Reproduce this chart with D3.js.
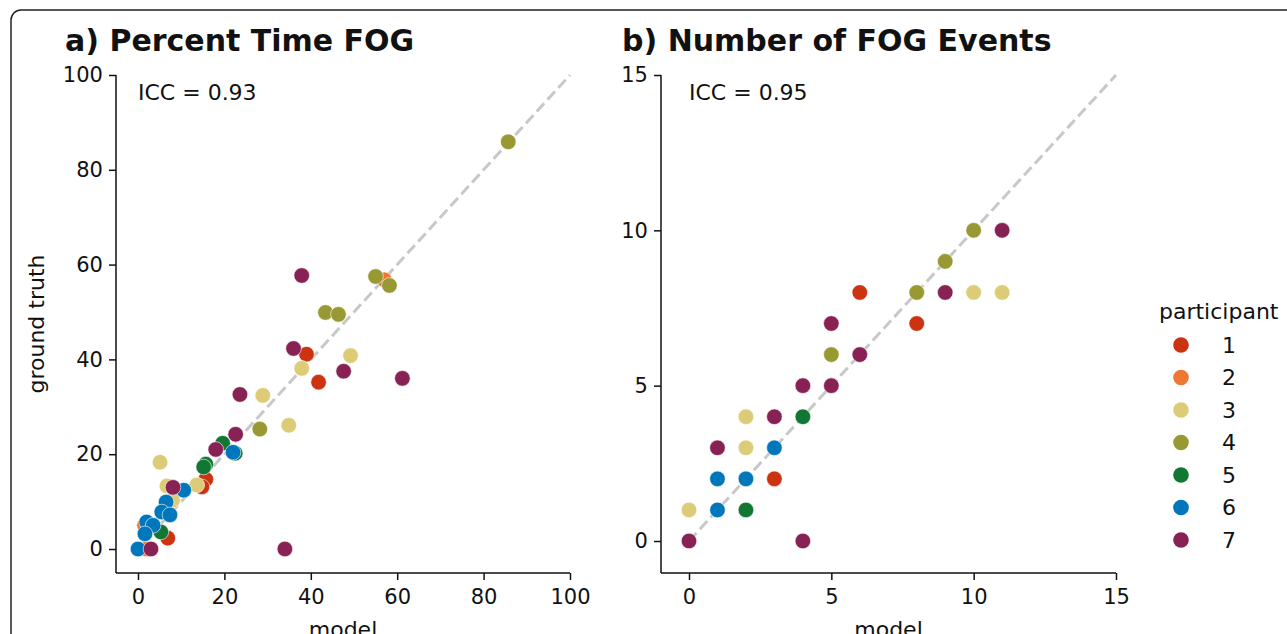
<!DOCTYPE html>
<html>
<head>
<meta charset="utf-8">
<script src="https://cdn.jsdelivr.net/npm/d3@7"></script>
<style>
  body { margin: 0; background: #fff; }
  svg { font-family: "DejaVu Sans", sans-serif; }
</style>
</head>
<body>
<div id="chart"></div>
<script>
// participants + colours
const participants = [1, 2, 3, 4, 5, 6, 7];
const colors = ['#cc3311', '#ee7733', '#ddcc77', '#999933', '#117733', '#0077bb', '#882255'];

// a) percent time FOG
const aModel = [39, 41.8, 15.7, 14.8, 6.9,
  57, 1.5, 2,
  49.2, 37.9, 28.9, 34.9, 5.1, 13.6, 6.7, 8,
  85.7, 55, 58.2, 43.4, 46.4, 28.2,
  19.6, 22.5, 15.7, 15.2, 5.3,
  22, 10.6, 6.5, 5.5, 7.4, 2, 3.5, 1.6, 0,
  37.9, 36, 47.6, 61.2, 23.6, 22.6, 18, 8.1, 34, 3];
const aTruth = [41.1, 35.2, 14.7, 13.1, 2.3,
  56.8, 5, 0,
  40.8, 38.1, 32.4, 26.1, 18.3, 13.5, 13.3, 10.3,
  85.9, 57.5, 55.6, 49.9, 49.5, 25.3,
  22.3, 20.2, 17.9, 17.3, 3.6,
  20.4, 12.4, 9.9, 7.8, 7.2, 5.7, 5, 3.2, 0,
  57.7, 42.3, 37.5, 36, 32.6, 24.2, 21, 13, 0, 0];
const aParticipant = [1, 1, 1, 1, 1,
  2, 2, 2,
  3, 3, 3, 3, 3, 3, 3, 3,
  4, 4, 4, 4, 4, 4,
  5, 5, 5, 5, 5,
  6, 6, 6, 6, 6, 6, 6, 6, 6,
  7, 7, 7, 7, 7, 7, 7, 7, 7, 7];

// b) number of FOG events
const bModel = [3, 6, 8,
  0, 2, 2, 10, 11,
  5, 8, 9, 10,
  2, 4,
  1, 1, 2, 3,
  0, 1, 3, 4, 4, 5, 5, 6, 9, 11];
const bTruth = [2, 8, 7,
  1, 4, 3, 8, 8,
  6, 8, 9, 10,
  1, 4,
  2, 1, 2, 3,
  0, 3, 4, 5, 0, 5, 7, 6, 8, 10];
const bParticipant = [1, 1, 1,
  3, 3, 3, 3, 3,
  4, 4, 4, 4,
  5, 5,
  6, 6, 6, 6,
  7, 7, 7, 7, 7, 7, 7, 7, 7, 7];

const aTicks = [0, 20, 40, 60, 80, 100];
const bTicks = [0, 5, 10, 15];

const W = 1287, H = 634;
const color = d3.scaleOrdinal().domain(participants).range(colors);

const svg = d3.select('#chart').append('svg')
  .attr('width', W).attr('height', H);

// frame round the figure
svg.append('rect')
  .attr('x', 11).attr('y', 10)
  .attr('width', W + 20).attr('height', H + 20)
  .attr('rx', 10)
  .attr('fill', 'none')
  .attr('stroke', '#222')
  .attr('stroke-width', 1.5);

function panel(opt) {
  const x = d3.scaleLinear().domain(opt.domain).range(opt.xr);
  const y = d3.scaleLinear().domain(opt.domain).range(opt.yr);
  const g = svg.append('g');

  // identity line
  g.append('line')
    .attr('x1', x(opt.domain[0])).attr('y1', y(opt.domain[0]))
    .attr('x2', x(opt.domain[1])).attr('y2', y(opt.domain[1]))
    .attr('stroke', '#c8c8c8')
    .attr('stroke-width', 3)
    .attr('stroke-dasharray', '11,5');

  // axes (spines offset like seaborn despine)
  const xa = g.append('g')
    .attr('transform', 'translate(0,' + opt.axisY + ')')
    .call(d3.axisBottom(x).tickValues(opt.ticks).tickSize(7).tickSizeOuter(0));
  const ya = g.append('g')
    .attr('transform', 'translate(' + opt.axisX + ',0)')
    .call(d3.axisLeft(y).tickValues(opt.ticks).tickSize(7).tickSizeOuter(0));
  [xa, ya].forEach(a => {
    a.select('.domain').remove();
    a.selectAll('line').attr('stroke', '#111').attr('stroke-width', 1.5);
    a.selectAll('text').attr('font-size', 21).attr('fill', '#111')
      .attr('font-family', '"DejaVu Sans", sans-serif');
  });
  xa.selectAll('text').attr('dy', '1.0em');
  ya.selectAll('text').attr('dx', '-0.15em');
  g.append('line')
    .attr('x1', opt.axisX).attr('x2', x(opt.domain[1]))
    .attr('y1', opt.axisY).attr('y2', opt.axisY)
    .attr('stroke', '#111').attr('stroke-width', 1.5);
  g.append('line')
    .attr('x1', opt.axisX).attr('x2', opt.axisX)
    .attr('y1', opt.axisY).attr('y2', y(opt.domain[1]))
    .attr('stroke', '#111').attr('stroke-width', 1.5);

  // points
  g.append('g').selectAll('circle')
    .data(opt.model.map((m, i) => ({ m: m, t: opt.truth[i], p: opt.part[i] })))
    .enter()
    .append('circle')
    .attr('cx', d => x(d.m))
    .attr('cy', d => y(d.t))
    .attr('r', 7.8)
    .attr('fill', d => color(d.p))
    .attr('stroke', '#fff')
    .attr('stroke-width', 0.6);

  // texts
  g.append('text')
    .attr('x', opt.titleX).attr('y', 51)
    .attr('font-size', 30).attr('font-weight', 'bold').attr('fill', '#111')
    .text(opt.title);
  g.append('text')
    .attr('x', x(0)).attr('y', 100)
    .attr('font-size', 22).attr('fill', '#111')
    .text(opt.icc);
  g.append('text')
    .attr('x', (opt.axisX + x(opt.domain[1])) / 2).attr('y', 637)
    .attr('text-anchor', 'middle')
    .attr('font-size', 22).attr('fill', '#111')
    .text('model');
  if (opt.ylab) {
    g.append('text')
      .attr('transform', 'translate(44,' + (opt.axisY + y(opt.domain[1])) / 2 + ') rotate(-90)')
      .attr('text-anchor', 'middle')
      .attr('font-size', 22).attr('fill', '#111')
      .text(opt.ylab);
  }
}

panel({
  domain: [0, 100], xr: [138, 570], yr: [549, 75], axisX: 116, axisY: 573,
  ticks: aTicks, model: aModel, truth: aTruth, part: aParticipant,
  title: 'a) Percent Time FOG', titleX: 65, icc: 'ICC = 0.93', ylab: 'ground truth'
});
panel({
  domain: [0, 15], xr: [689, 1116], yr: [541, 75], axisX: 661, axisY: 573,
  ticks: bTicks, model: bModel, truth: bTruth, part: bParticipant,
  title: 'b) Number of FOG Events', titleX: 622, icc: 'ICC = 0.95', ylab: null
});

// legend
const leg = svg.append('g');
leg.append('text')
  .attr('x', 1159).attr('y', 319)
  .attr('font-size', 22).attr('fill', '#111')
  .text('participant');
const li = leg.selectAll('g.item')
  .data(participants)
  .enter().append('g')
  .attr('class', 'item')
  .attr('transform', (d, i) => 'translate(1181,' + (345 + i * 32.5) + ')');
li.append('circle').attr('r', 7.8).attr('fill', d => color(d));
li.append('text')
  .attr('x', 41).attr('dy', '0.35em')
  .attr('font-size', 22).attr('fill', '#111')
  .text(d => d);
</script>
</body>
</html>
